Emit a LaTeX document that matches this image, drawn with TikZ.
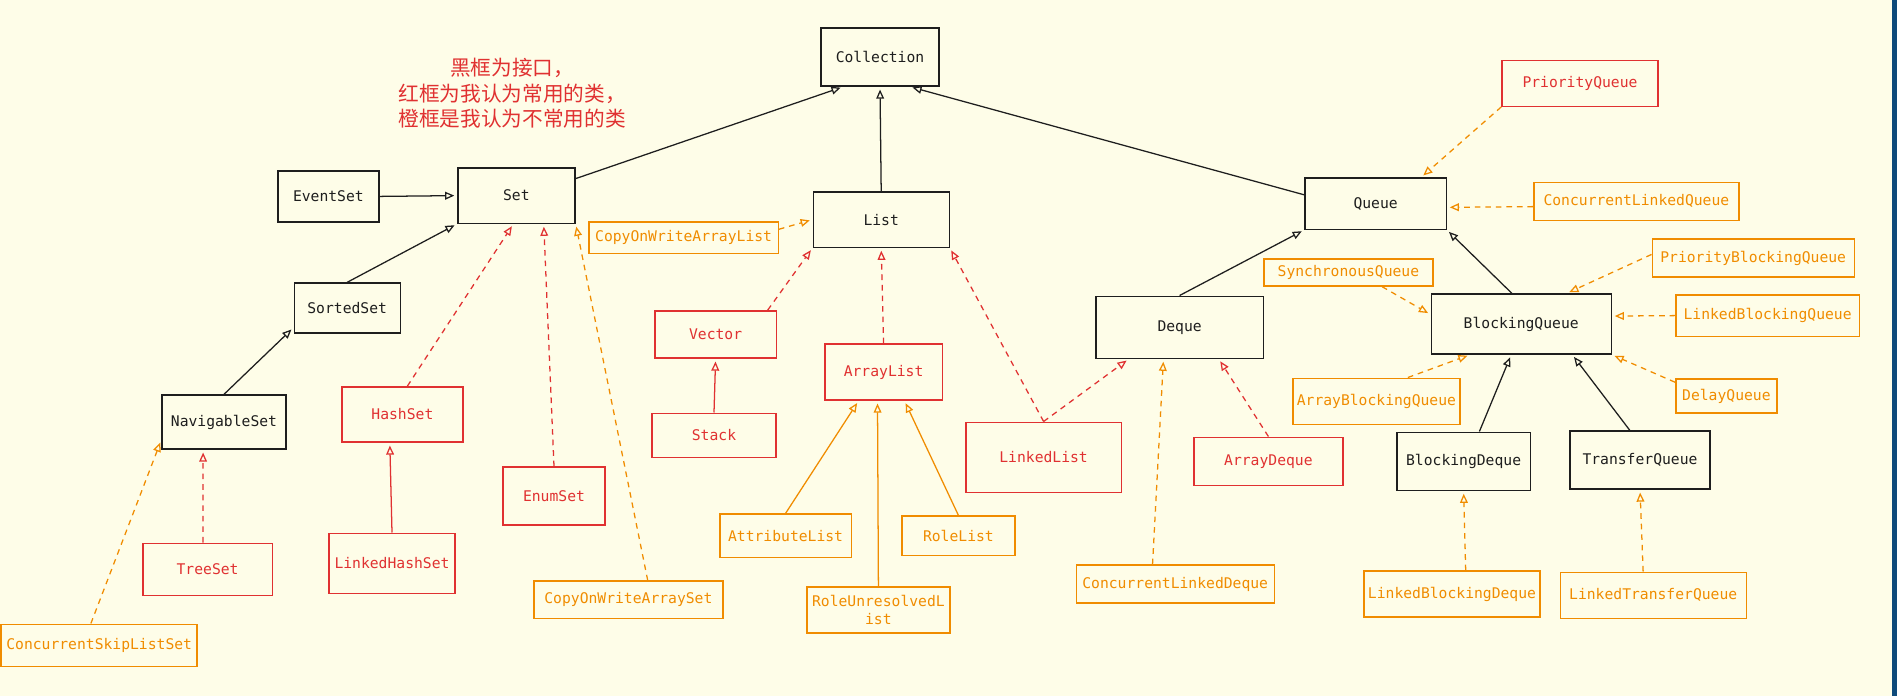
\documentclass[tikz,border=0pt]{standalone}
\usepackage{fontspec}
\newfontfamily\boxfont{DejaVu Sans Mono}
\newfontfamily\cjk{Noto Sans CJK SC}
\usetikzlibrary{arrows.meta,shapes}
\pgfdeclarelayer{bglayer}
\pgfdeclarelayer{edgelayer}
\pgfdeclarelayer{nodelayer}
\pgfsetlayers{bglayer,edgelayer,nodelayer,main}
\definecolor{paper}{HTML}{FEFDE8}
\definecolor{inkblack}{HTML}{1E1E1E}
\definecolor{inkred}{HTML}{E03131}
\definecolor{inkorange}{HTML}{F08C00}
\definecolor{edgeblue}{HTML}{0E4A7A}
\tikzset{font=\boxfont\fontsize{10.45}{12.5}\selectfont}
\tikzstyle{none}=[inner sep=0pt]
\tikzstyle{iface}=[rectangle,draw=inkblack,text=inkblack,line width=1pt,inner sep=2pt]
\tikzstyle{common}=[rectangle,draw=inkred,text=inkred,line width=1pt,inner sep=2pt]
\tikzstyle{rare}=[rectangle,draw=inkorange,text=inkorange,line width=1pt,inner sep=2pt]
\tikzstyle{note}=[inner sep=0pt,text=inkred,align=center,font=\cjk\fontsize{14.7}{18.1}\selectfont]
\tikzstyle{extends}=[draw=inkblack,line width=0.9pt,-{Triangle[open,length=6.5pt,width=5.5pt]},shorten >=2pt]
\tikzstyle{extred}=[draw=inkred,line width=0.9pt,-{Triangle[open,length=6.5pt,width=5.5pt]},shorten >=2pt]
\tikzstyle{extorange}=[draw=inkorange,line width=0.9pt,-{Triangle[open,length=6.5pt,width=5.5pt]},shorten >=2pt]
\tikzstyle{implred}=[extred,dash pattern=on 4pt off 3.5pt]
\tikzstyle{implorange}=[extorange,dash pattern=on 4pt off 3.5pt]

\begin{document}
\begin{tikzpicture}
	\begin{pgfonlayer}{bglayer}
		\fill [paper] (0, 0) rectangle (47.425, -17.4);
		\fill [edgeblue] (47.3, 0) rectangle (47.425, -17.4);
		\useasboundingbox (0, 0) rectangle (47.425, -17.4);
	\end{pgfonlayer}
	\begin{pgfonlayer}{nodelayer}
		\node [style=iface, minimum width=2.95cm, minimum height=1.45cm] (1) at (22.00, -1.425) {Collection};
		\node [style=iface, minimum width=2.93cm, minimum height=1.38cm] (2) at (12.91, -4.89) {Set};
		\node [style=iface, minimum width=2.53cm, minimum height=1.28cm] (3) at (8.21, -4.91) {EventSet};
		\node [style=iface, minimum width=2.65cm, minimum height=1.25cm] (4) at (8.68, -7.70) {SortedSet};
		\node [style=iface, minimum width=3.10cm, minimum height=1.35cm] (5) at (5.60, -10.55) {NavigableSet};
		\node [style=common, minimum width=3.03cm, minimum height=1.38cm] (6) at (10.06, -10.36) {HashSet};
		\node [style=common, minimum width=2.55cm, minimum height=1.45cm] (7) at (13.85, -12.40) {EnumSet};
		\node [style=common, minimum width=3.23cm, minimum height=1.30cm] (8) at (5.19, -14.23) {TreeSet};
		\node [style=common, minimum width=3.15cm, minimum height=1.50cm] (9) at (9.80, -14.08) {LinkedHashSet};
		\node [style=rare, minimum width=4.90cm, minimum height=1.05cm] (10) at (2.48, -16.13) {ConcurrentSkipListSet};
		\node [style=rare, minimum width=4.73cm, minimum height=0.93cm] (11) at (15.71, -14.99) {CopyOnWriteArraySet};
		\node [style=iface, minimum width=3.40cm, minimum height=1.38cm] (12) at (22.03, -5.49) {List};
		\node [style=rare, minimum width=4.73cm, minimum height=0.78cm] (13) at (17.09, -5.94) {CopyOnWriteArrayList};
		\node [style=common, minimum width=3.03cm, minimum height=1.18cm] (14) at (17.89, -8.36) {Vector};
		\node [style=common, minimum width=3.10cm, minimum height=1.10cm] (15) at (17.85, -10.88) {Stack};
		\node [style=common, minimum width=2.93cm, minimum height=1.40cm] (16) at (22.09, -9.30) {ArrayList};
		\node [style=rare, minimum width=3.28cm, minimum height=1.08cm] (17) at (19.64, -13.39) {AttributeList};
		\node [style=rare, minimum width=3.58cm, minimum height=1.15cm, align=center] (18) at (21.96, -15.25) {RoleUnresolvedL\\ist};
		\node [style=rare, minimum width=2.83cm, minimum height=0.98cm] (19) at (23.96, -13.39) {RoleList};
		\node [style=common, minimum width=3.88cm, minimum height=1.75cm] (20) at (26.09, -11.43) {LinkedList};
		\node [style=iface, minimum width=4.18cm, minimum height=1.55cm] (21) at (29.49, -8.18) {Deque};
		\node [style=common, minimum width=3.73cm, minimum height=1.20cm] (22) at (31.71, -11.53) {ArrayDeque};
		\node [style=rare, minimum width=4.95cm, minimum height=0.95cm] (23) at (29.38, -14.60) {ConcurrentLinkedDeque};
		\node [style=iface, minimum width=3.53cm, minimum height=1.28cm] (24) at (34.39, -5.09) {Queue};
		\node [style=common, minimum width=3.90cm, minimum height=1.15cm] (25) at (39.50, -2.08) {PriorityQueue};
		\node [style=rare, minimum width=5.13cm, minimum height=0.95cm] (26) at (40.91, -5.03) {ConcurrentLinkedQueue};
		\node [style=rare, minimum width=4.23cm, minimum height=0.68cm] (27) at (33.71, -6.81) {SynchronousQueue};
		\node [style=iface, minimum width=4.50cm, minimum height=1.50cm] (28) at (38.03, -8.10) {BlockingQueue};
		\node [style=rare, minimum width=5.05cm, minimum height=0.95cm] (29) at (43.83, -6.45) {PriorityBlockingQueue};
		\node [style=rare, minimum width=4.58cm, minimum height=1.03cm] (30) at (44.19, -7.89) {LinkedBlockingQueue};
		\node [style=rare, minimum width=4.18cm, minimum height=1.15cm] (31) at (34.41, -10.03) {ArrayBlockingQueue};
		\node [style=rare, minimum width=2.53cm, minimum height=0.85cm] (32) at (43.16, -9.90) {DelayQueue};
		\node [style=iface, minimum width=3.33cm, minimum height=1.45cm] (33) at (36.59, -11.53) {BlockingDeque};
		\node [style=iface, minimum width=3.50cm, minimum height=1.45cm] (34) at (41.00, -11.50) {TransferQueue};
		\node [style=rare, minimum width=4.40cm, minimum height=1.15cm] (35) at (36.30, -14.85) {LinkedBlockingDeque};
		\node [style=rare, minimum width=4.65cm, minimum height=1.15cm] (36) at (41.33, -14.88) {LinkedTransferQueue};
		\node [style=note] (37) at (12.80, -2.33) {黑框为接口，\\红框为我认为常用的类，\\橙框是我认为不常用的类};
	\end{pgfonlayer}
	\begin{pgfonlayer}{edgelayer}
		\draw [style=extends] (2.16) to (1.219);
		\draw [style=extends] (12.north) to (1.south);
		\draw [style=extends] (24.173) to (1.315);
		\draw [style=extends] (3.east) to (2.west);
		\draw [style=extends] (4.north) to (2.south west);
		\draw [style=extends] (5.north) to (4.200);
		\draw [style=implred] (6.80) to (2.264);
		\draw [style=implred] (7.north) to (2.314);
		\draw [style=implred] (8.100) to (5.233);
		\draw [style=implorange] (10.111) to (5.196);
		\draw [style=implorange] (11.45) to (2.south east);
		\draw [style=extred] (9.north) to (6.246);
		\draw [style=implorange] (13.5) to (12.west);
		\draw [style=implred] (14.25) to (12.south west);
		\draw [style=implred] (16.north) to (12.south);
		\draw [style=implred] (20.north) to (12.south east);
		\draw [style=implred] (20.north) to (21.212);
		\draw [style=extred] (15.north) to (14.south);
		\draw [style=extorange] (17.north) to (16.229);
		\draw [style=extorange] (18.north) to (16.258);
		\draw [style=extorange] (19.north) to (16.306);
		\draw [style=extends] (21.north) to (24.south west);
		\draw [style=implred] (22.north) to (21.321);
		\draw [style=implorange] (23.139) to (21.243);
		\draw [style=implorange] (25.south west) to (24.30);
		\draw [style=implorange] (26.183) to (24.357);
		\draw [style=extends] (28.107) to (24.south east);
		\draw [style=implorange] (27.337) to (28.174);
		\draw [style=implorange] (29.178) to (28.34);
		\draw [style=implorange] (30.west) to (28.5);
		\draw [style=implorange] (31.37) to (28.211);
		\draw [style=implorange] (32.165) to (28.south east);
		\draw [style=extends] (33.62) to (28.252);
		\draw [style=extends] (34.109) to (28.329);
		\draw [style=implorange] (35.60) to (33.south);
		\draw [style=implorange] (36.113) to (34.south);
	\end{pgfonlayer}
\end{tikzpicture}
\end{document}
